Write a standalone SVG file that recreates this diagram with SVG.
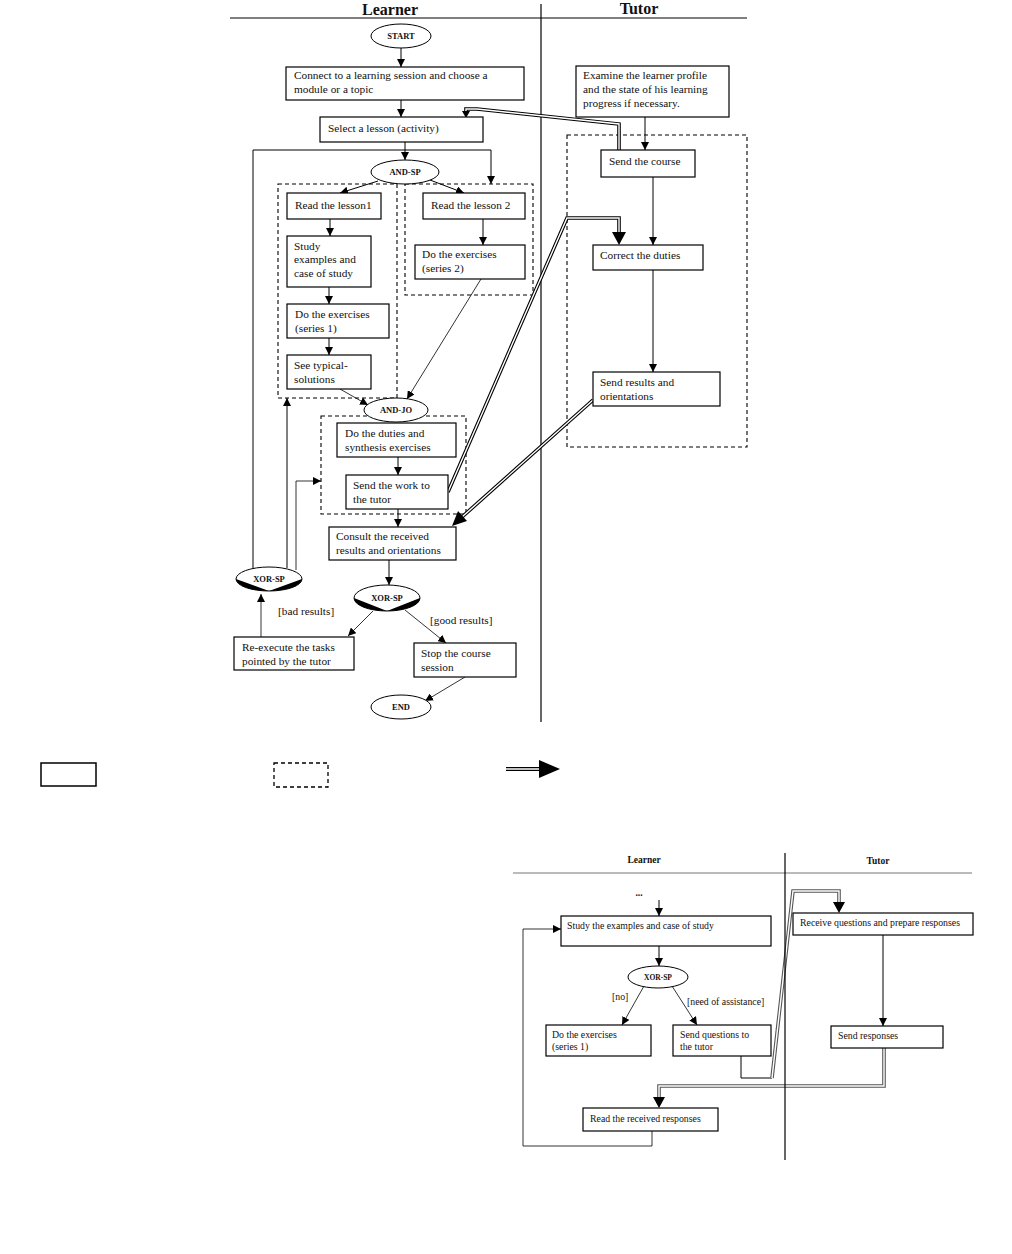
<svg xmlns="http://www.w3.org/2000/svg" width="1012" height="1254" viewBox="0 0 1012 1254">
<style>
text{font-family:"Liberation Serif","Times New Roman",serif;fill:#111}
.t{font-size:11.3px}
.s{font-size:9.8px}
.h{font-size:16px;font-weight:bold;text-anchor:middle}
.hs{font-size:9.5px;font-weight:bold;text-anchor:middle}
.g{font-size:8.5px;font-weight:bold;text-anchor:middle}
.gs{font-size:7.5px;font-weight:bold;text-anchor:middle}
.box{fill:#fff;stroke:#000;stroke-width:1.2}
.dash{fill:none;stroke:#000;stroke-width:1.1;stroke-dasharray:4 3}
.el{fill:#fff;stroke:#000;stroke-width:1}
.ln{fill:none;stroke:#000;stroke-width:1}
.lnt{fill:none;stroke:#000;stroke-width:0.8}
.dblo{fill:none;stroke:#000;stroke-width:3.6}
.dbli{fill:none;stroke:#fff;stroke-width:1.4}
.dblog{fill:none;stroke:#555;stroke-width:3.6}
</style>
<defs>
<marker id="a" viewBox="0 0 10 10" refX="10" refY="5" markerWidth="8" markerHeight="8" markerUnits="userSpaceOnUse" orient="auto"><path d="M0,0 L10,5 L0,10 z" fill="#000"/></marker>
</defs>
<rect width="1012" height="1254" fill="#fff"/>

<g id="lanes-top">
<line x1="230" y1="18" x2="747" y2="18" stroke="#000" stroke-width="1"/>
<line x1="541" y1="4" x2="541" y2="722" stroke="#000" stroke-width="1.2"/>
<text class="h" x="390" y="15">Learner</text>
<text class="h" x="639" y="14">Tutor</text>
</g>

<g id="groups-top">
<rect class="dash" x="278" y="184" width="119" height="214"/>
<rect class="dash" x="405" y="184" width="128" height="111"/>
<rect class="dash" x="321" y="416" width="145" height="98"/>
<rect class="dash" x="567" y="135" width="180" height="312"/>
</g>

<g id="connectors">
<line class="ln" x1="401" y1="48" x2="401" y2="67" marker-end="url(#a)"/>
<line class="ln" x1="401" y1="100" x2="401" y2="117" marker-end="url(#a)"/>
<line class="ln" x1="405" y1="142" x2="405" y2="160" marker-end="url(#a)"/>
<polyline class="ln" points="253,568 253,150 491,150 491,184" marker-end="url(#a)"/>
<line class="ln" x1="378" y1="181" x2="340" y2="193" marker-end="url(#a)"/>
<line class="ln" x1="430" y1="180" x2="464" y2="193" marker-end="url(#a)"/>
<line class="ln" x1="330" y1="219" x2="330" y2="236" marker-end="url(#a)"/>
<line class="ln" x1="329" y1="287" x2="329" y2="304" marker-end="url(#a)"/>
<line class="ln" x1="329" y1="338" x2="329" y2="355" marker-end="url(#a)"/>
<line class="ln" x1="483" y1="219" x2="483" y2="245" marker-end="url(#a)"/>
<line class="lnt" x1="481" y1="279" x2="407" y2="399" marker-end="url(#a)"/>
<line class="lnt" x1="340" y1="389" x2="368" y2="405" marker-end="url(#a)"/>
<line class="ln" x1="398" y1="457" x2="398" y2="475" marker-end="url(#a)"/>
<line class="ln" x1="398" y1="509" x2="398" y2="527" marker-end="url(#a)"/>
<line class="ln" x1="389" y1="560" x2="389" y2="585" marker-end="url(#a)"/>
<line class="ln" x1="287" y1="568" x2="287" y2="398" marker-end="url(#a)"/>
<polyline class="lnt" points="296,570 296,481 321,481" marker-end="url(#a)"/>
<line class="lnt" x1="261" y1="637" x2="261" y2="594" marker-end="url(#a)"/>
<line class="lnt" x1="373" y1="611" x2="348" y2="636" marker-end="url(#a)"/>
<line class="lnt" x1="405" y1="610" x2="446" y2="643" marker-end="url(#a)"/>
<line class="lnt" x1="465" y1="677" x2="425" y2="701" marker-end="url(#a)"/>
<line class="ln" x1="645" y1="117" x2="645" y2="150" marker-end="url(#a)"/>
<line class="ln" x1="653" y1="177" x2="653" y2="245" marker-end="url(#a)"/>
<line class="ln" x1="653" y1="270" x2="653" y2="372" marker-end="url(#a)"/>

<polyline class="dblo" points="619,150 619,124 477,109 466,109 466,113"/>
<polyline class="dbli" points="619,150 619,124 477,109 466,109 466,113"/>
<polygon points="462,111 470,111 466,118" fill="#000"/>
<polyline class="dblo" points="448,492 567,218 619,218 619,234"/>
<polyline class="dbli" points="448,492 567,218 619,218 619,234"/>
<polygon points="612,232 626,232 619,245" fill="#000"/>
<polyline class="dblo" points="593,400 462,517"/>
<polyline class="dbli" points="593,400 462,517"/>
<polygon points="452,526 458,511 467,521" fill="#000"/>

<line class="ln" x1="659" y1="900" x2="659" y2="916" marker-end="url(#a)"/>
<polyline class="lnt" points="652,1131 652,1146 523,1146 523,929 561,929" marker-end="url(#a)"/>
<line class="ln" x1="659" y1="946" x2="659" y2="966" marker-end="url(#a)"/>
<line class="lnt" x1="644" y1="986" x2="622" y2="1025" marker-end="url(#a)"/>
<line class="lnt" x1="672" y1="986" x2="697" y2="1025" marker-end="url(#a)"/>
<polyline class="ln" points="741,1056 741,1078 772,1078"/>
<polyline class="dblog" points="772,1078 793,891 839,891 839,904"/>
<polyline class="dbli" points="772,1078 793,891 839,891 839,904"/>
<polygon points="833,902 845,902 839,913" fill="#000"/>
<line class="ln" x1="883" y1="935" x2="883" y2="1026" marker-end="url(#a)"/>
<polyline class="dblog" points="884,1048 884,1086 659,1086 659,1099"/>
<polyline class="dbli" points="884,1048 884,1086 659,1086 659,1099"/>
<polygon points="653,1097 665,1097 659,1108" fill="#000"/>
</g>

<g id="start"><ellipse class="el" cx="401" cy="36" rx="30" ry="12"/><text class="g" x="401" y="39">START</text></g>
<g id="connect"><rect class="box" x="286" y="67" width="238" height="33"/><text class="t" x="294" y="79">Connect to a learning session and choose a</text><text class="t" x="294" y="93">module or a topic</text></g>
<g id="select"><rect class="box" x="320" y="117" width="163" height="25"/><text class="t" x="328" y="132">Select a lesson (activity)</text></g>
<g id="and-sp"><ellipse class="el" cx="405" cy="172" rx="34" ry="12"/><text class="g" x="405" y="175">AND-SP</text></g>
<g id="lesson1"><rect class="box" x="287" y="193" width="94" height="26"/><text class="t" x="295" y="209">Read the lesson1</text></g>
<g id="lesson2"><rect class="box" x="423" y="193" width="102" height="26"/><text class="t" x="431" y="209">Read the lesson 2</text></g>
<g id="study"><rect class="box" x="287" y="236" width="84" height="51"/><text class="t" x="294" y="250">Study</text><text class="t" x="294" y="263">examples and</text><text class="t" x="294" y="277">case of study</text></g>
<g id="ex1"><rect class="box" x="287" y="304" width="102" height="34"/><text class="t" x="295" y="318">Do the exercises</text><text class="t" x="295" y="332">(series 1)</text></g>
<g id="typical"><rect class="box" x="287" y="355" width="84" height="34"/><text class="t" x="294" y="369">See typical-</text><text class="t" x="294" y="383">solutions</text></g>
<g id="ex2"><rect class="box" x="415" y="245" width="110" height="34"/><text class="t" x="422" y="258">Do the exercises</text><text class="t" x="422" y="272">(series 2)</text></g>
<g id="and-jo"><ellipse class="el" cx="396" cy="410" rx="32" ry="12"/><text class="g" x="396" y="413">AND-JO</text></g>
<g id="duties"><rect class="box" x="337" y="423" width="119" height="34"/><text class="t" x="345" y="437">Do the duties and</text><text class="t" x="345" y="451">synthesis exercises</text></g>
<g id="sendwork"><rect class="box" x="346" y="475" width="102" height="34"/><text class="t" x="353" y="489">Send the work to</text><text class="t" x="353" y="503">the tutor</text></g>
<g id="consult"><rect class="box" x="329" y="527" width="127" height="33"/><text class="t" x="336" y="540">Consult the received</text><text class="t" x="336" y="554">results and orientations</text></g>
<g id="xor-left"><ellipse class="el" cx="269" cy="579" rx="33" ry="12"/><path d="M236,579 A33,12 0 0 0 302,579 L269,591 Z" fill="#000"/><text class="g" x="269" y="582">XOR-SP</text></g>
<g id="xor-right"><ellipse class="el" cx="387" cy="598" rx="33" ry="13"/><path d="M354,598 A33,13 0 0 0 420,598 L387,611 Z" fill="#000"/><text class="g" x="387" y="601">XOR-SP</text></g>
<g id="labels-top"><text class="t" x="278" y="615">[bad results]</text><text class="t" x="430" y="624">[good results]</text></g>
<g id="reexec"><rect class="box" x="234" y="637" width="120" height="33"/><text class="t" x="242" y="651">Re-execute the tasks</text><text class="t" x="242" y="665">pointed by the tutor</text></g>
<g id="stop"><rect class="box" x="414" y="643" width="102" height="34"/><text class="t" x="421" y="657">Stop the course</text><text class="t" x="421" y="671">session</text></g>
<g id="end"><ellipse class="el" cx="401" cy="707" rx="30" ry="12"/><text class="g" x="401" y="710">END</text></g>
<g id="examine"><rect class="box" x="576" y="66" width="153" height="51"/><text class="t" x="583" y="79">Examine the learner profile</text><text class="t" x="583" y="93">and the state of his learning</text><text class="t" x="583" y="107">progress if necessary.</text></g>
<g id="sendcourse"><rect class="box" x="601" y="150" width="94" height="27"/><text class="t" x="609" y="165">Send the course</text></g>
<g id="correct"><rect class="box" x="593" y="245" width="110" height="25"/><text class="t" x="600" y="259">Correct the duties</text></g>
<g id="sendresults"><rect class="box" x="593" y="372" width="127" height="34"/><text class="t" x="600" y="386">Send results and</text><text class="t" x="600" y="400">orientations</text></g>

<g id="legend">
<rect x="41" y="763" width="55" height="23" fill="#fff" stroke="#000" stroke-width="1.5"/>
<rect x="274" y="763" width="54" height="24" fill="none" stroke="#000" stroke-width="1.3" stroke-dasharray="4 3"/>
<line x1="506" y1="769" x2="540" y2="769" stroke="#000" stroke-width="4"/>
<line x1="506" y1="769" x2="540" y2="769" stroke="#fff" stroke-width="1.4"/>
<polygon points="539,760 560,769 539,778" fill="#000"/>
</g>

<g id="lanes-bottom">
<line x1="513" y1="873" x2="972" y2="873" stroke="#777" stroke-width="1"/>
<line x1="785" y1="853" x2="785" y2="1160" stroke="#000" stroke-width="1.2"/>
<text class="hs" x="644" y="863">Learner</text>
<text class="hs" x="878" y="864">Tutor</text>
<text class="hs" x="639" y="896">...</text>
</g>
<g id="b-study"><rect class="box" x="561" y="916" width="210" height="30"/><text class="s" x="567" y="929">Study the examples and case of study</text></g>
<g id="b-xor"><ellipse class="el" cx="658" cy="977" rx="30" ry="11"/><text class="gs" x="658" y="980">XOR-SP</text></g>
<g id="b-labels"><text class="s" x="612" y="1000">[no]</text><text class="s" x="687" y="1005">[need of assistance]</text></g>
<g id="b-ex1"><rect class="box" x="546" y="1025" width="105" height="31"/><text class="s" x="552" y="1038">Do the exercises</text><text class="s" x="552" y="1050">(series 1)</text></g>
<g id="b-sendq"><rect class="box" x="673" y="1025" width="98" height="31"/><text class="s" x="680" y="1038">Send questions to</text><text class="s" x="680" y="1050">the tutor</text></g>
<g id="b-receive"><rect class="box" x="793" y="913" width="180" height="22"/><text class="s" x="800" y="926">Receive questions and  prepare responses</text></g>
<g id="b-sendresp"><rect class="box" x="831" y="1026" width="112" height="22"/><text class="s" x="838" y="1039">Send responses</text></g>
<g id="b-read"><rect class="box" x="583" y="1108" width="135" height="23"/><text class="s" x="590" y="1122">Read the received responses</text></g>
</svg>
